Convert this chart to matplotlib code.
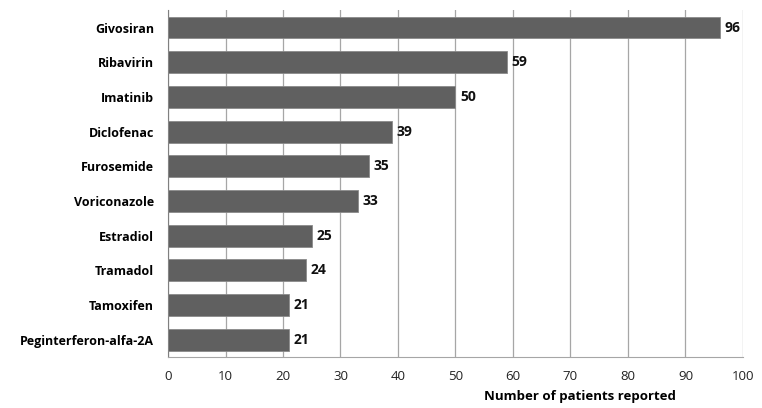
import matplotlib.pyplot as plt

drugs = ["Givosiran", "Ribavirin", "Imatinib", "Diclofenac", "Furosemide",
         "Voriconazole", "Estradiol", "Tramadol", "Tamoxifen", "Peginterferon-alfa-2A"]
patients = [96, 59, 50, 39, 35, 33, 25, 24, 21, 21]
xticks = list(range(0, 101, 10))

plt.rcParams['font.family'] = ['Open Sans', 'DejaVu Sans']

fig = plt.figure(figsize=(7.62, 4.08), dpi=100)
ax = fig.add_axes([0.2205, 0.125, 0.7545, 0.85])

ypos = list(range(len(drugs)))[::-1]
bars = ax.barh(ypos, patients, height=0.63, color="#606060",
               edgecolor="#8a8a8a", linewidth=0.6, zorder=3)

# value labels at bar ends
for y, v in zip(ypos, patients):
    ax.text(v + 0.8, y, str(v), va="center", ha="left",
            fontsize=10, fontweight="bold", color="#111111")

ax.set_xlim(0, 100)
ax.set_ylim(-0.5, len(drugs) - 0.5)
ax.set_xticks(xticks)
ax.set_yticks(ypos)
ax.set_yticklabels(drugs, fontsize=9, fontweight="bold")
ax.tick_params(axis="x", labelsize=9.5, length=0, pad=9, colors="#222222")
ax.tick_params(axis="y", length=0, pad=10)

ax.grid(axis="x", color="#a6a6a6", linewidth=0.9, zorder=0)
for side in ["top", "right"]:
    ax.spines[side].set_visible(False)
ax.spines["left"].set_color("#808080")
ax.spines["bottom"].set_color("#a6a6a6")

ax.set_xlabel("Number of patients reported", fontsize=9.5, fontweight="bold")
ax.xaxis.set_label_coords(0.716, -0.095)

fig.savefig("out.png", dpi=100)
